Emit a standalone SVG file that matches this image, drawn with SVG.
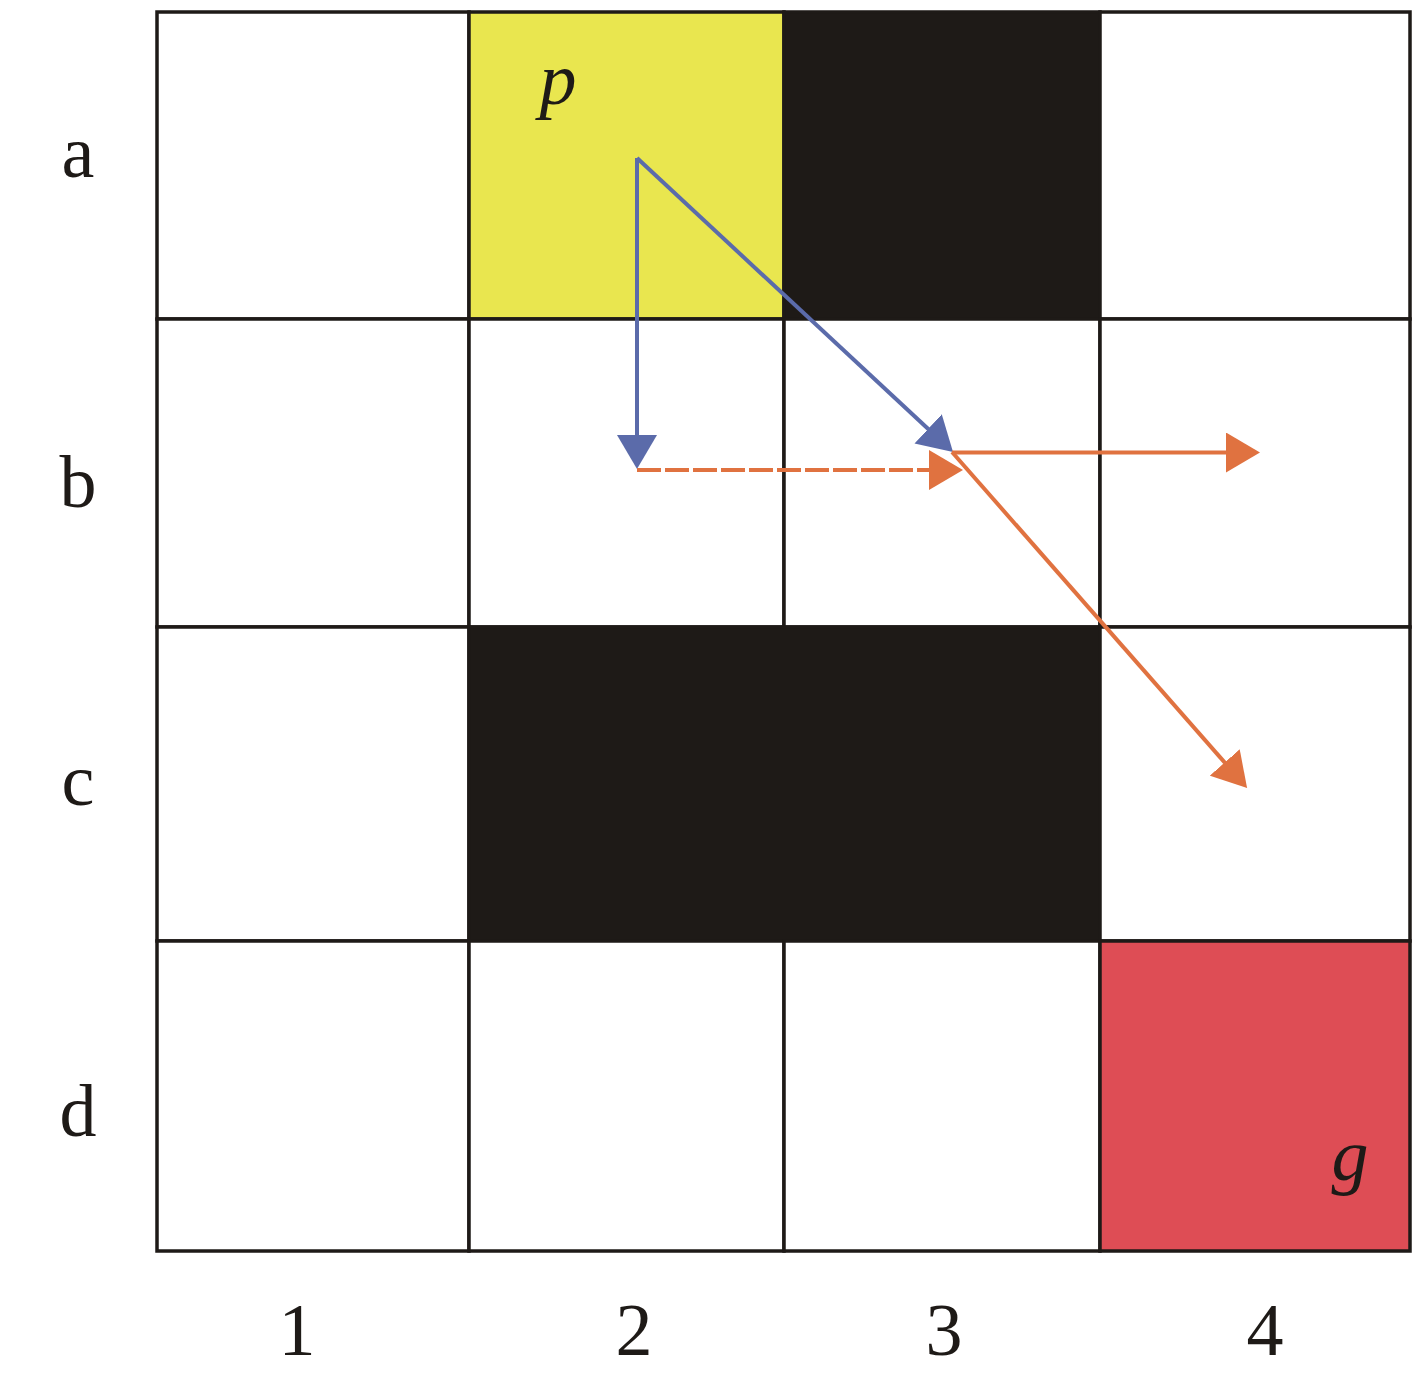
<svg xmlns="http://www.w3.org/2000/svg" width="1417" height="1377" viewBox="0 0 1417 1377">
<defs>
<style>
.cell{stroke:#1E1A17;stroke-width:3.5}
.lbl{font-family:"Liberation Serif","Times New Roman",serif;font-size:74px;fill:#1E1A17;text-anchor:middle}
.it{font-style:italic}
.blue{stroke:#5B6BAA;stroke-width:4;fill:none}
.orange{stroke:#E07240;stroke-width:4;fill:none}
</style>
<marker id="hb" viewBox="0 0 34 40" refX="0.5" refY="20" markerWidth="34" markerHeight="40" markerUnits="userSpaceOnUse" orient="auto"><path d="M0,0 L34,20 L0,40 Z" fill="#5B6BAA"/></marker>
<marker id="ho" viewBox="0 0 34 40" refX="0.5" refY="20" markerWidth="34" markerHeight="40" markerUnits="userSpaceOnUse" orient="auto"><path d="M0,0 L34,20 L0,40 Z" fill="#E07240"/></marker>
</defs>
<rect width="1417" height="1377" fill="#fff"/>
<g id="grid">
<g id="a1"><rect class="cell" x="157" y="12" width="312" height="307" fill="#fff"/></g>
<g id="a2"><rect class="cell" x="469" y="12" width="315" height="307" fill="#E9E64F"/></g>
<g id="a3"><rect class="cell" x="784" y="12" width="316" height="307" fill="#1E1A17"/></g>
<g id="a4"><rect class="cell" x="1100" y="12" width="310" height="307" fill="#fff"/></g>
<g id="b1"><rect class="cell" x="157" y="319" width="312" height="308" fill="#fff"/></g>
<g id="b2"><rect class="cell" x="469" y="319" width="315" height="308" fill="#fff"/></g>
<g id="b3"><rect class="cell" x="784" y="319" width="316" height="308" fill="#fff"/></g>
<g id="b4"><rect class="cell" x="1100" y="319" width="310" height="308" fill="#fff"/></g>
<g id="c1"><rect class="cell" x="157" y="627" width="312" height="314" fill="#fff"/></g>
<g id="c23"><rect class="cell" x="469" y="627" width="631" height="314" fill="#1E1A17"/></g>
<g id="c4"><rect class="cell" x="1100" y="627" width="310" height="314" fill="#fff"/></g>
<g id="d1"><rect class="cell" x="157" y="941" width="312" height="310" fill="#fff"/></g>
<g id="d2"><rect class="cell" x="469" y="941" width="315" height="310" fill="#fff"/></g>
<g id="d3"><rect class="cell" x="784" y="941" width="316" height="310" fill="#fff"/></g>
<g id="d4"><rect class="cell" x="1100" y="941" width="310" height="310" fill="#DE4D55"/></g>
</g>
<g id="connectors">
<path class="blue" d="M637,158 L637,435.5" marker-end="url(#hb)"/>
<path class="blue" d="M637,158 L928.5,429.2" marker-end="url(#hb)"/>
<path class="orange" d="M637,470 L929.5,470" stroke-dasharray="24,4" marker-end="url(#ho)"/>
<path class="orange" d="M952,452.5 L1226.5,452.5" marker-end="url(#ho)"/>
<path class="orange" d="M952,452 L1225,762.9" marker-end="url(#ho)"/>
</g>
<g id="labels">
<text class="lbl it" x="558" y="104">p</text>
<text class="lbl it" x="1350" y="1180">g</text>
<text class="lbl" x="78" y="177">a</text>
<text class="lbl" x="78" y="507">b</text>
<text class="lbl" x="78" y="805">c</text>
<text class="lbl" x="78" y="1136">d</text>
<text class="lbl" x="297" y="1355">1</text>
<text class="lbl" x="634" y="1355">2</text>
<text class="lbl" x="944" y="1355">3</text>
<text class="lbl" x="1265" y="1355">4</text>
</g>
</svg>
